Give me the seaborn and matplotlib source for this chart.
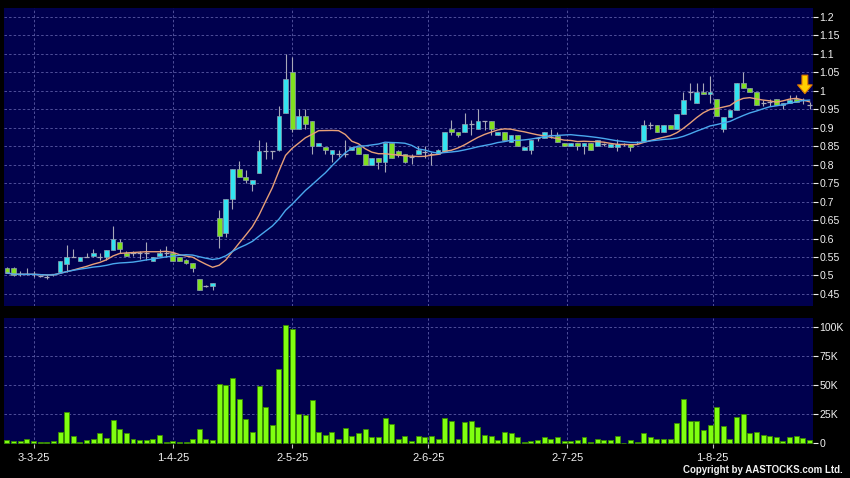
import numpy as np
import pandas as pd
import matplotlib
matplotlib.use("Agg")
import matplotlib.pyplot as plt
import seaborn as sns

# ---------------- data ----------------
opens = [0.521, 0.521, 0.503, 0.503, 0.503, 0.498, 0.496, 0.503, 0.509, 0.532,
         0.551, 0.540, 0.551, 0.553, 0.551, 0.551, 0.570, 0.592, 0.562, 0.562,
         0.562, 0.562, 0.540, 0.553, 0.562, 0.562, 0.551, 0.542, 0.533, 0.491,
         0.471, 0.471, 0.657, 0.616, 0.707, 0.789, 0.766, 0.748, 0.777, 0.836,
         0.836, 0.839, 0.939, 1.050, 0.898, 0.932, 0.919, 0.850, 0.848, 0.830,
         0.830, 0.830, 0.839, 0.848, 0.830, 0.798, 0.818, 0.807, 0.859, 0.837,
         0.828, 0.821, 0.830, 0.835, 0.830, 0.830, 0.837, 0.898, 0.889, 0.889,
         0.910, 0.898, 0.919, 0.919, 0.880, 0.889, 0.862, 0.880, 0.839, 0.839,
         0.871, 0.871, 0.880, 0.877, 0.859, 0.850, 0.859, 0.850, 0.859, 0.850,
         0.856, 0.849, 0.849, 0.856, 0.856, 0.861, 0.865, 0.908, 0.908, 0.888,
         0.908, 0.897, 0.938, 0.997, 0.967, 0.997, 0.991, 0.979, 0.897, 0.929,
         0.949, 1.020, 1.009, 0.997, 0.967, 0.970, 0.979, 0.961, 0.967, 0.979,
         0.974, 0.961]
closes = [0.507, 0.500, 0.503, 0.503, 0.503, 0.498, 0.496, 0.503, 0.540, 0.551,
          0.551, 0.551, 0.551, 0.562, 0.551, 0.570, 0.600, 0.571, 0.553, 0.562,
          0.562, 0.562, 0.551, 0.562, 0.562, 0.540, 0.540, 0.533, 0.521, 0.462,
          0.471, 0.480, 0.607, 0.707, 0.789, 0.766, 0.759, 0.759, 0.836, 0.836,
          0.836, 0.932, 1.033, 0.898, 0.932, 0.910, 0.850, 0.859, 0.839, 0.839,
          0.830, 0.830, 0.848, 0.830, 0.798, 0.818, 0.807, 0.859, 0.818, 0.825,
          0.807, 0.821, 0.839, 0.835, 0.830, 0.839, 0.889, 0.889, 0.880, 0.910,
          0.910, 0.919, 0.919, 0.898, 0.889, 0.868, 0.880, 0.850, 0.848, 0.868,
          0.871, 0.889, 0.880, 0.862, 0.850, 0.859, 0.850, 0.859, 0.839, 0.866,
          0.856, 0.856, 0.856, 0.856, 0.847, 0.861, 0.908, 0.908, 0.888, 0.908,
          0.897, 0.938, 0.976, 0.997, 0.997, 0.991, 0.997, 0.931, 0.929, 0.949,
          1.020, 1.009, 0.997, 0.961, 0.967, 0.970, 0.961, 0.967, 0.976, 0.970,
          0.974, 0.961]
highs = [0.522, 0.522, 0.512, 0.521, 0.512, 0.500, 0.500, 0.505, 0.540, 0.582,
         0.571, 0.551, 0.562, 0.571, 0.562, 0.570, 0.635, 0.600, 0.565, 0.566,
         0.566, 0.591, 0.551, 0.571, 0.580, 0.566, 0.551, 0.545, 0.533, 0.491,
         0.475, 0.480, 0.678, 0.707, 0.789, 0.809, 0.785, 0.759, 0.866, 0.862,
         0.836, 0.959, 1.100, 1.092, 0.950, 0.950, 0.919, 0.859, 0.848, 0.839,
         0.840, 0.866, 0.848, 0.848, 0.830, 0.818, 0.818, 0.859, 0.859, 0.840,
         0.830, 0.830, 0.850, 0.850, 0.835, 0.842, 0.889, 0.920, 0.889, 0.940,
         0.920, 0.950, 0.919, 0.919, 0.889, 0.889, 0.880, 0.880, 0.848, 0.868,
         0.875, 0.889, 0.898, 0.889, 0.859, 0.859, 0.859, 0.859, 0.859, 0.866,
         0.860, 0.856, 0.870, 0.860, 0.856, 0.865, 0.920, 0.915, 0.908, 0.908,
         0.908, 0.938, 0.997, 1.020, 1.020, 1.020, 1.040, 0.979, 0.929, 0.949,
         1.020, 1.050, 1.009, 0.997, 0.975, 0.978, 0.979, 0.967, 0.990, 0.990,
         0.980, 0.970]
lows = [0.506, 0.499, 0.499, 0.500, 0.497, 0.496, 0.491, 0.498, 0.507, 0.509,
        0.551, 0.540, 0.551, 0.551, 0.542, 0.542, 0.570, 0.562, 0.553, 0.553,
        0.544, 0.542, 0.540, 0.553, 0.551, 0.540, 0.538, 0.531, 0.509, 0.462,
        0.468, 0.460, 0.575, 0.605, 0.680, 0.766, 0.750, 0.728, 0.777, 0.816,
        0.816, 0.836, 0.939, 0.889, 0.898, 0.898, 0.830, 0.850, 0.830, 0.807,
        0.820, 0.821, 0.839, 0.830, 0.798, 0.798, 0.789, 0.780, 0.818, 0.820,
        0.805, 0.803, 0.830, 0.819, 0.798, 0.828, 0.835, 0.880, 0.876, 0.889,
        0.880, 0.898, 0.894, 0.880, 0.880, 0.868, 0.862, 0.850, 0.839, 0.830,
        0.865, 0.871, 0.871, 0.862, 0.850, 0.850, 0.839, 0.830, 0.839, 0.850,
        0.850, 0.849, 0.838, 0.850, 0.838, 0.856, 0.865, 0.897, 0.888, 0.888,
        0.897, 0.897, 0.938, 0.976, 0.967, 0.991, 0.967, 0.931, 0.888, 0.929,
        0.949, 1.009, 0.997, 0.961, 0.958, 0.960, 0.961, 0.950, 0.967, 0.970,
        0.965, 0.950]
volume_k = [3, 2, 2, 4, 2, 1, 1, 2, 10, 27,
            6, 1, 3, 3.5, 9, 4.5, 20, 12, 9, 3.5,
            2.5, 2.5, 4, 7, 1, 2, 1, 1.5, 3.5, 12,
            4, 3, 51, 50, 56, 38, 21, 10, 49, 31,
            16, 64, 102, 98, 25, 24, 37, 10, 7, 10,
            4, 13, 6, 9, 12, 5.5, 5.5, 22, 17, 4,
            6, 2, 6.5, 5, 6, 4, 22, 19, 3.5, 18,
            19, 14, 7, 6, 3, 9.5, 8.5, 5.5, 1, 2,
            3, 5, 4, 5, 2, 2, 3, 5, 1, 3.5,
            3, 2.5, 6, 0.3, 3, 1, 8.5, 5.5, 3.5, 3.5,
            4, 17.5, 38, 19, 19, 11, 16, 31, 15, 4,
            23, 25, 8.5, 10, 7, 6, 5, 2, 5.5, 6,
            4.5, 3]
date_labels = ["3-3-25", "1-4-25", "2-5-25", "2-6-25", "2-7-25", "1-8-25"]
date_index = [4, 25, 43, 63.5, 84.5, 106.4]
price_ticks = [1.2, 1.15, 1.1, 1.05, 1.0, 0.95, 0.9, 0.85, 0.8, 0.75, 0.7,
               0.65, 0.6, 0.55, 0.5, 0.45]
price_tick_labels = ["1.2", "1.15", "1.1", "1.05", "1", "0.95", "0.9", "0.85",
                     "0.8", "0.75", "0.7", "0.65", "0.6", "0.55", "0.5", "0.45"]
vol_ticks = [0, 25, 50, 75, 100]
vol_tick_labels = ["0", "25K", "50K", "75K", "100K"]

# ---------------- styling ----------------
FIG_BG = "#000000"
PANEL_BG = "#00004e"
GRID_C = "#5c5ca6"
UP_C = "#33e4f0"
DOWN_C = "#80e020"
VOL_C = "#80ff10"
VOL_EDGE = "#3a8a00"
WICK_C = "#a8a8b8"
MA10_C = "#e8a078"
MA20_C = "#4aa8ee"
TXT_C = "#f0f0f0"

plt.rcParams["font.family"] = ["Liberation Sans", "DejaVu Sans"]

df = pd.DataFrame({"i": np.arange(len(closes)), "open": opens, "high": highs,
                   "low": lows, "close": closes, "vol": volume_k})
df["ma10"] = df["close"].rolling(10, min_periods=1).mean()
df["ma20"] = df["close"].rolling(20, min_periods=1).mean()

fig = plt.figure(figsize=(8.5, 4.78), dpi=100, facecolor=FIG_BG)
ax = fig.add_axes([4 / 850, 1 - 306 / 478, 808.5 / 850, 298 / 478])
axv = fig.add_axes([4 / 850, 1 - 443.5 / 478, 808.5 / 850, 125.5 / 478])

xlim = (-0.45, 121.45)
for a in (ax, axv):
    a.set_facecolor(PANEL_BG)
    for s in a.spines.values():
        s.set_visible(False)
    a.set_xlim(*xlim)

# grid
for p in price_ticks:
    ax.axhline(p, color=GRID_C, lw=0.6, ls=(0, (3, 2.5)), zorder=0)
for v in vol_ticks[1:]:
    axv.axhline(v, color=GRID_C, lw=0.6, ls=(0, (3, 2.5)), zorder=0)
for xi in date_index:
    ax.axvline(xi, color=GRID_C, lw=0.6, ls=(0, (3, 2.5)), zorder=0)
    axv.axvline(xi, color=GRID_C, lw=0.6, ls=(0, (3, 2.5)), zorder=0)

# candles
up = df[df["close"] > df["open"]]
dn = df[df["close"] < df["open"]]
dj = df[df["close"] == df["open"]]
ax.vlines(df["i"], df["low"], df["high"], color=WICK_C, lw=0.8, zorder=2)
ax.bar(up["i"], up["close"] - up["open"], bottom=up["open"], width=0.72,
       color=UP_C, edgecolor="#8fa0b0", linewidth=0.5, zorder=3)
ax.bar(dn["i"], dn["open"] - dn["close"], bottom=dn["close"], width=0.72,
       color=DOWN_C, edgecolor="#8fa0b0", linewidth=0.5, zorder=3)
ax.hlines(dj["close"], dj["i"] - 0.38, dj["i"] + 0.38, color=WICK_C, lw=0.9, zorder=3)

# moving averages
sns.lineplot(data=df, x="i", y="ma10", ax=ax, color=MA10_C, lw=1.0, zorder=4)
sns.lineplot(data=df, x="i", y="ma20", ax=ax, color=MA20_C, lw=1.0, zorder=4)

# volume
sns.barplot(data=df, x="i", y="vol", ax=axv, native_scale=True, width=0.75,
            color=VOL_C, edgecolor=VOL_EDGE, linewidth=0.6, errorbar=None,
            saturation=1, zorder=3)

ax.set_ylim(0.4174, 1.2244)
axv.set_ylim(-0.2, 107.8)
ax.set_xlim(*xlim)
axv.set_xlim(*xlim)

# axes ticks / labels
ax.yaxis.tick_right()
ax.set_yticks(price_ticks)
ax.set_yticklabels(price_tick_labels)
axv.yaxis.tick_right()
axv.set_yticks(vol_ticks)
axv.set_yticklabels(vol_tick_labels)
for a in (ax, axv):
    a.tick_params(axis="y", colors=TXT_C, labelcolor=TXT_C, length=3.5,
                  width=0.8, pad=1.5, labelsize=7.6)
    a.set_xlabel("")
    a.set_ylabel("")
ax.set_xticks([])
axv.set_xticks(date_index)
axv.set_xticklabels(date_labels)
axv.tick_params(axis="x", colors="#c0c0c0", labelcolor=TXT_C, length=3,
                width=0.8, pad=4, labelsize=8)

# marker arrow on the last bar
ax.annotate("", xy=(120.3, 0.985), xytext=(120.3, 1.05),
            arrowprops=dict(arrowstyle="simple,head_length=0.9,head_width=1.5,tail_width=0.6",
                            fc="#ffd000", ec="#e07800", lw=0.8, mutation_scale=7),
            zorder=6)

fig.text(843 / 850, 1 - 470 / 478, "Copyright by AASTOCKS.com Ltd.", color=TXT_C,
         fontsize=7.0, ha="right", va="center", fontweight="bold")

fig.savefig("out.png", dpi=100, facecolor=FIG_BG)
